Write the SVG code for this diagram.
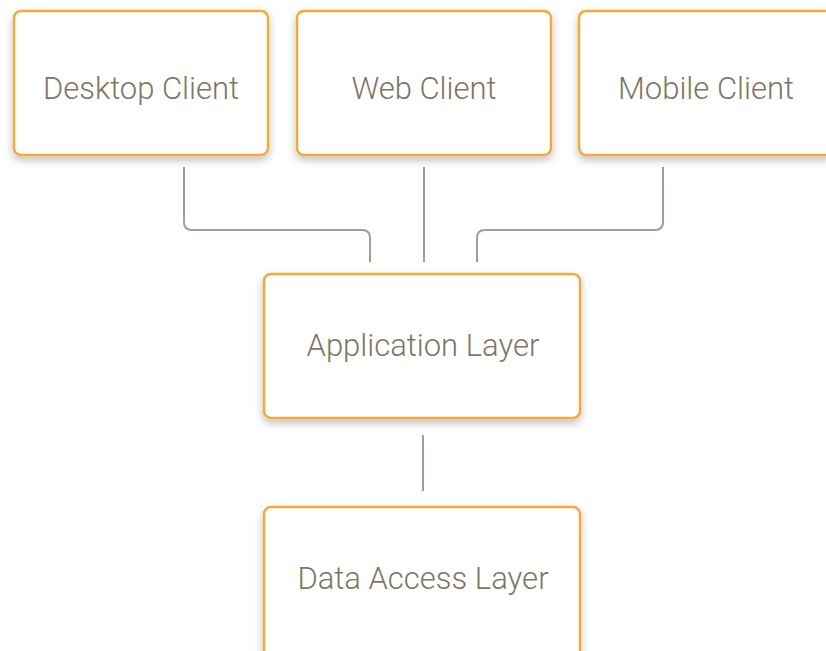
<svg xmlns="http://www.w3.org/2000/svg" width="826" height="651" viewBox="0 0 826 651">
  <style>
    .box { fill: #ffffff; stroke: #f5a83a; stroke-width: 2.5; filter: url(#shadow); }
    .label { font-family: Roboto, "Liberation Sans", Arial, sans-serif; font-weight: 300; font-size: 31px; fill: #7d7664; text-anchor: middle; }
    .wire { fill: none; stroke: #a39d8c; stroke-width: 2; }
  </style>
  <defs>
    <filter id="shadow" x="-10%" y="-10%" width="120%" height="130%">
      <feGaussianBlur in="SourceAlpha" stdDeviation="4"/>
      <feOffset dx="0" dy="4" result="blur"/>
      <feFlood flood-color="#000000" flood-opacity="0.25"/>
      <feComposite in2="blur" operator="in"/>
      <feMerge>
        <feMergeNode/>
        <feMergeNode in="SourceGraphic"/>
      </feMerge>
    </filter>
  </defs>
  <rect width="826" height="651" fill="#ffffff"/>

  <g id="connectors">
    <path class="wire" d="M184 167 V222 Q184 230 192 230 H362 Q370 230 370 238 V262"/>
    <path class="wire" d="M424 167 V262"/>
    <path class="wire" d="M663 167 V222 Q663 230 655 230 H485 Q477 230 477 238 V262"/>
    <path class="wire" d="M423 435 V491"/>
  </g>

  <g id="desktop-client">
    <rect class="box" x="14" y="11" width="254" height="144" rx="7"/>
    <text class="label" x="141" y="99">Desktop Client</text>
  </g>
  <g id="web-client">
    <rect class="box" x="297" y="11" width="254" height="144" rx="7"/>
    <text class="label" x="424" y="99">Web Client</text>
  </g>
  <g id="mobile-client">
    <rect class="box" x="579" y="11" width="254" height="144" rx="7"/>
    <text class="label" x="706" y="99">Mobile Client</text>
  </g>
  <g id="application-layer">
    <rect class="box" x="264" y="274" width="316" height="144" rx="7"/>
    <text class="label" x="423" y="356">Application Layer</text>
  </g>
  <g id="data-access-layer">
    <rect class="box" x="264" y="507" width="316" height="160" rx="7"/>
    <text class="label" x="423" y="589">Data Access Layer</text>
  </g>
</svg>
